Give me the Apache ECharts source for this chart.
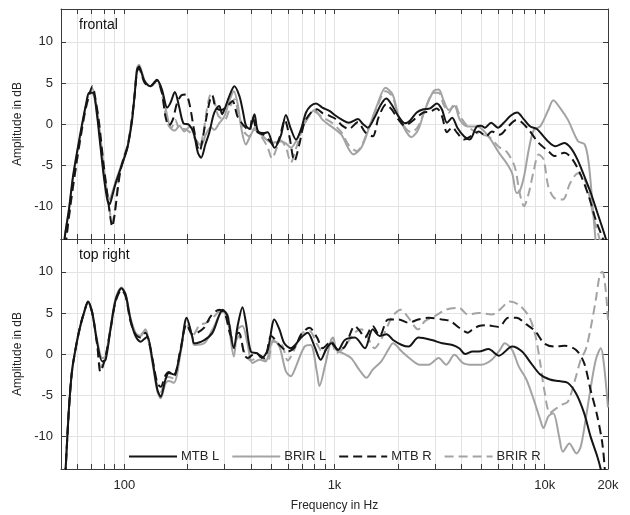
<!DOCTYPE html>
<html>
<head>
<meta charset="utf-8">
<script src="https://cdn.jsdelivr.net/npm/echarts@6/dist/echarts.min.js"></script>
<style>
  html, body { margin: 0; padding: 0; background: #fff; }
  #container { width: 630px; height: 515px; }
</style>
</head>
<body>
<div id="container"></div>
<script>
// [frequency in Hz, amplitude in dB]
var topMtbL = [[50.5,-20],[52,-14],[54.5,-10.5],[57,-6.4],[60,-3],[63,0],[66,2.6],[68,3.8],[71,3.8],[74,1.3],[77,-2.7],[80,-6.5],[83,-9.2],[85,-9.8],[88,-8.6],[91,-7.2],[95,-5.8],[98,-4.8],[103,-3.1],[106,-1.5],[109,0.5],[112,3.5],[115,6.6],[117.5,7.0],[121,6.2],[125,5.2],[133,4.6],[143,5.4],[151,4.2],[160,2.0],[166,2.6],[174,3.9],[182,2.2],[191,0.1],[203,-0.1],[214,-1.1],[224,-3.5],[232,-4.1],[243,-2.5],[254,-1.0],[265,1.0],[273,1.8],[283,2.2],[292,1.2],[302,2.0],[316,3.4],[334,4.6],[353,3.4],[367,1.5],[379,-0.2],[394,-0.6],[416,1.2],[432,-0.85],[464,-1.1],[481,-1.0],[518,-2.9],[556,-1.4],[587,1.1],[620,-0.6],[656,-1.9],[694,-0.6],[732,1.4],[770,2.2],[817,2.5],[875,2.0],[946,1.6],[1014,1.0],[1088,0.5],[1170,0.15],[1292,0.6],[1364,0],[1441,-0.45],[1548,0.75],[1666,2.4],[1763,3.1],[1866,2.4],[2007,1.0],[2160,0.1],[2285,0.4],[2460,1.4],[2646,1.8],[2848,1.9],[3065,2.5],[3240,1.8],[3430,0.15],[3630,0.75],[3840,-0.45],[4130,-1.5],[4400,-1.9],[4750,-0.3],[4980,-0.2],[5200,-0.45],[5560,0.15],[5990,-0.45],[6390,0.15],[6880,1.0],[7400,1.4],[7940,0.6],[8540,-0.3],[9180,-0.6],[9870,-1.5],[10450,-2.2],[11240,-2.7],[12370,-2.3],[13300,-2.9],[14300,-4.3],[15400,-6.3],[16570,-8.4],[17800,-10.8],[19500,-13.9],[20000,-15]];
var topBrirL = [[50.5,-20],[52,-14],[54.5,-10.5],[57,-6.6],[60,-3.2],[63,-0.2],[66,2.5],[68.5,3.8],[71,3.7],[74,1.6],[77,-2.2],[80,-6],[83,-8.6],[85,-9.2],[88,-8.2],[91,-7],[95,-5.6],[98,-4.6],[103,-3],[106,-1.3],[109,0.7],[112,3.7],[115,6.8],[117.5,7.2],[121,6.4],[125,5.3],[133,4.6],[143,5.3],[151,4.0],[160,1.0],[166,-0.5],[174,-0.8],[183,-0.2],[193,-0.9],[205,-0.3],[219,-1.9],[232,-2.6],[245,-1.2],[258,-0.4],[268,-0.7],[283,0.1],[299,0.9],[316,2.8],[332,4.0],[346,2.5],[362,-0.8],[379,-2.5],[395,-1.6],[416,-0.7],[448,-1.3],[480,-2.0],[505,-2.3],[556,-2.1],[590,-2.4],[620,-2.9],[656,-2.1],[720,0.1],[804,1.7],[878,0.5],[966,-0.3],[1078,-1.3],[1160,-2.9],[1230,-3.7],[1340,-2.9],[1450,-0.7],[1590,2.2],[1750,4.4],[1890,3.6],[2020,0.9],[2190,-0.9],[2320,-1.6],[2500,-0.7],[2690,1.7],[2960,4.0],[3130,4.2],[3310,2.8],[3500,1.7],[3720,2.2],[3950,0.5],[4310,-0.3],[4770,-0.3],[5400,-1.5],[6060,-3.5],[6600,-4.8],[7000,-6.0],[7350,-8.4],[7600,-8.2],[7970,-6.4],[8400,-3.1],[8880,-0.7],[9520,-0.3],[10400,1.7],[10980,2.9],[11800,2.0],[12900,0.5],[14400,-2.1],[15500,-2.5],[16200,-4.8],[16900,-10],[17500,-14.5],[18000,-18]];
var topMtbR = [[50.5,-20],[53,-14],[56,-9],[59,-5],[62,-1.5],[65,1.5],[68,3.5],[70.5,4.6],[73,3.0],[76,0],[79,-4],[83,-8.5],[86,-11.5],[87.6,-12.5],[90,-11],[93,-8],[96,-5.6],[100,-4],[104,-2.6],[108,0],[112,3.5],[115,6.4],[117.5,6.8],[121,6.0],[125,5.0],[133,4.6],[143,5.3],[151,3.8],[157,0.9],[163,-0.2],[170,0.5],[178,2.5],[187,3.5],[196,3.6],[204,2.5],[214,-0.5],[222,-2.6],[228,-3.3],[237,-1.5],[245,0.6],[255,2.8],[262,3.5],[272,2.0],[290,1.7],[310,2.2],[327,2.8],[346,0.9],[373,-0.3],[394,-0.8],[407,0.9],[430,-1.0],[460,-1.3],[490,-2.0],[520,-2.8],[550,-1.5],[580,0.5],[610,-1.5],[645,-4.5],[680,-2.5],[720,0.2],[780,1.5],[826,1.8],[880,1.3],[946,1.0],[1014,0.6],[1088,-0.2],[1170,-0.6],[1290,0.2],[1400,-1.0],[1520,-1.5],[1620,0.8],[1763,2.4],[1866,1.8],[2007,0.6],[2160,-0.2],[2300,0.2],[2460,0.8],[2646,1.4],[2848,1.5],[3065,1.9],[3240,1.0],[3430,-1.0],[3630,-0.4],[3840,-1.1],[4130,-1.9],[4440,-1.5],[4860,-0.9],[5260,-1.5],[5600,-0.9],[6120,-1.3],[6700,-0.3],[7350,0.5],[7700,0.3],[8400,-0.7],[9350,-2.3],[10400,-3.3],[11100,-3.9],[12400,-3.5],[13550,-4.3],[14830,-6.2],[16200,-8.8],[17500,-11.7],[19000,-14.1],[20000,-16]];
var topBrirR = [[50.5,-20],[53,-14],[56,-9.2],[59,-5.2],[62,-1.7],[65,1.3],[68,3.4],[70.5,4.3],[73,2.8],[76,-0.3],[79,-4.2],[83,-8.5],[86,-11.2],[87.6,-12.0],[90,-10.6],[93,-7.6],[96,-5.4],[100,-3.8],[104,-2.4],[108,0.2],[112,3.7],[115,6.6],[117.5,7.0],[121,6.2],[125,5.1],[133,4.6],[143,5.2],[151,3.6],[160,0.2],[167,-0.5],[175,0.5],[183,-0.6],[193,-0.6],[205,-1.0],[219,-2.0],[228,-2.8],[238,-1.0],[248,2.0],[258,3.6],[266,3.2],[280,1.0],[300,0.5],[320,2.2],[334,3.0],[350,1.2],[373,-1.0],[394,-1.5],[416,-0.5],[448,-1.5],[480,-2.8],[505,-4.2],[530,-3.0],[556,-2.0],[590,-3.0],[620,-4.7],[656,-3.0],[720,0.0],[804,1.5],[878,0.8],[966,0.2],[1078,-1.0],[1170,-2.6],[1280,-3.3],[1360,-2.4],[1450,-0.6],[1590,2.0],[1750,4.0],[1890,3.3],[2020,0.8],[2190,-0.6],[2320,-1.0],[2500,-0.3],[2690,1.7],[2960,3.8],[3130,3.8],[3310,2.3],[3500,1.4],[3720,2.5],[3950,1.0],[4310,-0.3],[4860,-1.2],[5400,-1.5],[6060,-2.8],[6600,-3.4],[7200,-5.2],[7600,-8.4],[7970,-10],[8400,-8.4],[8880,-5.6],[9350,-3.7],[9870,-4.3],[10400,-7.6],[11100,-9.0],[12200,-9.2],[13200,-7.2],[14400,-6.0],[15500,-6.8],[16200,-8.4],[17200,-11.7],[18300,-14.2],[19000,-17]];

var botMtbL = [[51,-20],[52.6,-14],[54.5,-6.8],[56.5,-1.9],[59.7,1.7],[62,3.6],[64.3,5.0],[67.2,6.4],[70.4,5.0],[74.4,1.3],[78.6,-0.9],[81.5,-0.7],[86,3.0],[91,6.6],[97,8.0],[101.5,7.2],[107,4.2],[113,2.2],[119.6,1.5],[124,1.8],[128.7,2.1],[136,-0.7],[143.5,-4.3],[149,-5.2],[157,-3.1],[163,-2.3],[172,-2.5],[185.5,0.5],[198,4.4],[211,2.0],[215,1.3],[240,1.7],[263,2.6],[294,5.4],[310,4.6],[332,0.7],[346,3.4],[365,5.7],[379,3.8],[400,0.3],[428,0.1],[451,-0.5],[481,0.5],[518,4.2],[547,3.0],[577,1.3],[620,0.7],[650,1.1],[694,2.0],[745,2.6],[804,0.9],[860,-0.7],[910,0.5],[966,1.3],[1040,0.5],[1120,1.7],[1250,2.0],[1395,0.7],[1520,3.0],[1640,2.2],[1770,2.4],[1900,1.7],[2090,1.1],[2250,0.9],[2510,2.0],[2900,1.7],[3250,1.3],[3640,1.1],[3920,0.7],[4180,0],[4540,0.3],[4860,0.3],[5400,0.6],[6060,-0.2],[7000,0.9],[7800,0.3],[8600,-1.1],[9520,-2.5],[10580,-3.1],[11700,-3.3],[12850,-3.5],[14100,-4.8],[15400,-7.2],[16500,-10],[17800,-12.5],[18500,-14.1],[19000,-16]];
var botBrirL = [[51,-20],[52.6,-14],[54.5,-6.8],[56.5,-2],[59.7,1.6],[62,3.5],[64.3,5.0],[67.2,6.4],[70.4,5.1],[74.4,1.6],[78.6,-0.5],[81.5,-0.3],[86,3.2],[91,6.8],[97,8.1],[101.5,7.3],[107,4.4],[113,2.6],[119.6,2.2],[126,3.0],[131,1.5],[136,-1.0],[143.5,-4.5],[149,-5.4],[157,-3.6],[163,-3.3],[172,-3.5],[185.5,0.2],[198,4.2],[211,2.0],[215,1.1],[240,1.3],[263,3.0],[294,5.2],[310,4.2],[332,-0.3],[346,3.0],[365,3.4],[385,1.3],[407,-1.1],[440,-0.7],[470,-0.9],[510,1.7],[547,0.9],[587,-2.1],[620,-2.7],[656,-1.5],[720,0.9],[770,1.1],[826,-2.3],[848,-3.9],[900,-1.5],[962,1.7],[985,2.0],[1020,0.5],[1093,0.1],[1200,-0.5],[1310,-1.9],[1420,-2.9],[1520,-1.9],[1670,-0.9],[1800,0.5],[1900,1.3],[2090,0.3],[2320,-0.7],[2540,-1.3],[2800,-1.3],[3130,-0.5],[3400,-1.3],[3720,-0.1],[4090,-1.1],[4540,-1.3],[5000,-1.3],[5600,-0.7],[6120,0.5],[6460,1.3],[7000,0.5],[7520,-1.5],[8180,-3.1],[8880,-5.6],[9520,-8.0],[9860,-9.0],[10400,-7.6],[10980,-7.2],[11700,-10],[12200,-11.9],[13100,-10.9],[14150,-12.1],[14830,-11.3],[15650,-8.0],[16500,-4.3],[17500,-0.7],[18500,0.7],[19100,-1.1],[20000,-6.5]];
var botMtbR = [[51,-20],[52.6,-14],[54.5,-6.8],[56.5,-1.9],[59.7,1.7],[62,3.6],[64.3,5.0],[67.2,6.3],[70.4,5.0],[74.4,1.0],[77,-2.2],[79,-1.5],[81.5,-0.3],[86,3.0],[91,6.4],[97,7.8],[101.5,7.0],[107,4.0],[113,2.4],[119.6,2.0],[126,2.6],[131,1.5],[136,-0.5],[143.5,-3.5],[149,-4.0],[157,-2.6],[163,-2.2],[172,-2.7],[185.5,0.7],[198,3.6],[211,2.4],[223,2.6],[240,3.2],[258,4.6],[283,5.4],[300,5.0],[327,2.0],[350,2.6],[373,-0.1],[386,-0.5],[420,0.1],[464,-0.5],[500,2.2],[547,1.1],[600,0.3],[650,0.9],[694,2.4],[760,3.2],[826,2.0],[878,0.7],[962,1.5],[1040,0.5],[1120,0.9],[1250,3.4],[1320,2.8],[1395,2.0],[1520,3.4],[1640,2.2],[1800,4.2],[2020,4.2],[2250,3.8],[2500,4.2],[2800,4.4],[3250,4.2],[3560,4.0],[3920,3.2],[4310,2.6],[4540,3.0],[4860,3.4],[5250,3.5],[6060,3.3],[6700,4.4],[7350,4.4],[8180,3.6],[9000,2.8],[9940,1.3],[11100,0.9],[12400,1.0],[14100,0.5],[15400,-1.1],[16500,-4.3],[17800,-7.6],[18800,-10.9],[19300,-14],[19600,-17]];
var botBrirR = [[51,-20],[52.6,-14],[54.5,-6.9],[56.5,-2],[59.7,1.6],[62,3.5],[64.3,5.0],[67.2,6.3],[70.4,5.1],[74.4,1.2],[77,-1.6],[79,-1.2],[81.5,-0.2],[86,3.1],[91,6.6],[97,8.0],[101.5,7.1],[107,4.3],[113,2.6],[119.6,2.4],[126,2.9],[131,1.4],[136,-0.8],[143.5,-3.8],[149,-4.6],[157,-3.0],[163,-2.8],[172,-3.0],[185.5,0.4],[198,3.8],[211,2.2],[228,3.5],[245,3.8],[263,4.4],[290,5.3],[310,4.8],[332,1.0],[350,2.2],[373,0.2],[400,-0.8],[440,-0.3],[480,-1.0],[510,1.5],[560,1.2],[600,-0.8],[640,0.4],[700,2.5],[760,2.8],[826,1.2],[880,0.2],[962,1.7],[1020,0.1],[1100,0.7],[1250,2.6],[1340,3.0],[1440,2.0],[1548,0.7],[1700,2.2],[1890,4.6],[2070,5.4],[2250,4.4],[2500,3.0],[2690,4.0],[3000,4.6],[3400,5.4],[3920,5.6],[4310,4.8],[4860,5.0],[5600,4.8],[6120,5.4],[6820,6.4],[7520,6.0],[8400,4.6],[9000,2.4],[9520,-1.1],[9940,-4.3],[10580,-7.2],[11100,-6.8],[12000,-6.2],[12900,-5.8],[14100,-2.7],[14830,-0.7],[15650,0.5],[16500,3.0],[17500,6.6],[18300,9.7],[18800,10.0],[19500,7.8],[20000,4.0]];

var panelTitles = ['frontal', 'top right'];
var seriesNames = ['MTB L', 'BRIR L', 'MTB R', 'BRIR R'];
var yTicks = [-10, -5, 0, 5, 10];
var freqLabels = { 100: '100', 1000: '1k', 10000: '10k', 20000: '20k' };
var F_MIN = 50, F_MAX = 20000;

// log-spaced grid: 50..90, 100..900, 1k..9k, 10k, 20k
var freqTicks = [];
[10, 100, 1000, 10000].forEach(function (d) {
  for (var k = 1; k <= 9; k++) {
    var f = k * d;
    if (f >= F_MIN && f <= F_MAX) freqTicks.push(f);
  }
});
freqTicks.push(20000);

function lg(f) { return Math.log10(f); }
function toLog(arr) { return arr.map(function (p) { return [lg(p[0]), p[1]]; }); }

var FONT = 'Liberation Sans, Arial, Helvetica, sans-serif';
var TXT = '#262626';
var AXIS = '#3a3a3a';
var GRIDC = '#e3e3e3';
var BLACK = '#151515';
var GRAY = '#a3a3a3';

var dom = document.getElementById('container');
var myChart = echarts.init(dom, null, { renderer: 'canvas' });

var grids = [
  { left: 61, right: 22, top: 9, height: 230 },
  { left: 61, right: 22, top: 239, height: 230 }
];

function xAx(gi, pos, labels) {
  return {
    type: 'value', gridIndex: gi, position: pos,
    min: lg(F_MIN), max: lg(F_MAX),
    axisLine: { show: true, onZero: false, lineStyle: { color: AXIS, width: 1 } },
    axisTick: { show: true, inside: true, length: 5, lineStyle: { color: AXIS },
      customValues: freqTicks.map(lg) },
    splitLine: { show: pos === 'bottom', lineStyle: { color: GRIDC, width: 1 } },
    axisLabel: {
      show: labels, color: TXT, fontSize: 13, fontFamily: FONT, margin: 10,
      customValues: [100, 1000, 10000, 20000].map(lg),
      formatter: function (v) { return freqLabels[Math.round(Math.pow(10, v))] || ''; }
    },
    name: labels ? 'Frequency in Hz' : '',
    nameLocation: 'middle', nameGap: 31,
    nameTextStyle: { color: TXT, fontSize: 12, fontFamily: FONT }
  };
}
function yAx(gi, pos) {
  return {
    type: 'value', gridIndex: gi, position: pos,
    min: -14, max: 14,
    axisLine: { show: true, onZero: false, lineStyle: { color: AXIS, width: 1 } },
    axisTick: { show: true, inside: true, length: 5, lineStyle: { color: AXIS },
      customValues: yTicks },
    splitLine: { show: pos === 'left', lineStyle: { color: GRIDC, width: 1 } },
    axisLabel: { show: pos === 'left', color: TXT, fontSize: 13, fontFamily: FONT, margin: 8,
      customValues: yTicks },
    name: pos === 'left' ? 'Amplitude in dB' : '',
    nameLocation: 'middle', nameGap: 28, nameRotate: 90,
    nameTextStyle: { color: TXT, fontSize: 12, fontFamily: FONT }
  };
}

function line(name, data, xi, yi, color, dashed) {
  return {
    name: name, type: 'line', xAxisIndex: xi, yAxisIndex: yi,
    data: toLog(data), showSymbol: false, symbol: 'none', smooth: 0.3,
    clip: true, animation: false,
    lineStyle: { color: color, width: 2, type: dashed ? [9, 5] : 'solid' },
    itemStyle: { color: color }
  };
}

var option = {
  backgroundColor: '#fff',
  animation: false,
  title: panelTitles.map(function (t, i) {
    return { text: t, left: 79, top: i === 0 ? 18 : 248, padding: 0,
      textStyle: { color: '#111', fontSize: 14, fontWeight: 'normal', fontFamily: FONT } };
  }),
  grid: grids,
  xAxis: [xAx(0, 'bottom', false), xAx(0, 'top', false), xAx(1, 'bottom', true), xAx(1, 'top', false)],
  yAxis: [yAx(0, 'left'), yAx(0, 'right'), yAx(1, 'left'), yAx(1, 'right')],
  legend: {
    data: seriesNames,
    left: 128, top: 450, padding: 0,
    itemWidth: 48, itemHeight: 14, itemGap: 12,
    itemStyle: { opacity: 0, borderWidth: 0 },
    textStyle: { color: TXT, fontSize: 13, fontFamily: FONT, padding: [0, 0, 0, -1] },
    backgroundColor: 'transparent'
  },
  series: [
    line('BRIR L', topBrirL, 0, 0, GRAY, false),
    line('BRIR R', topBrirR, 0, 0, GRAY, true),
    line('MTB R', topMtbR, 0, 0, BLACK, true),
    line('MTB L', topMtbL, 0, 0, BLACK, false),
    line('BRIR L', botBrirL, 2, 2, GRAY, false),
    line('BRIR R', botBrirR, 2, 2, GRAY, true),
    line('MTB R', botMtbR, 2, 2, BLACK, true),
    line('MTB L', botMtbL, 2, 2, BLACK, false)
  ]
};

myChart.setOption(option);
window.addEventListener('resize', myChart.resize);
</script>
</body>
</html>
